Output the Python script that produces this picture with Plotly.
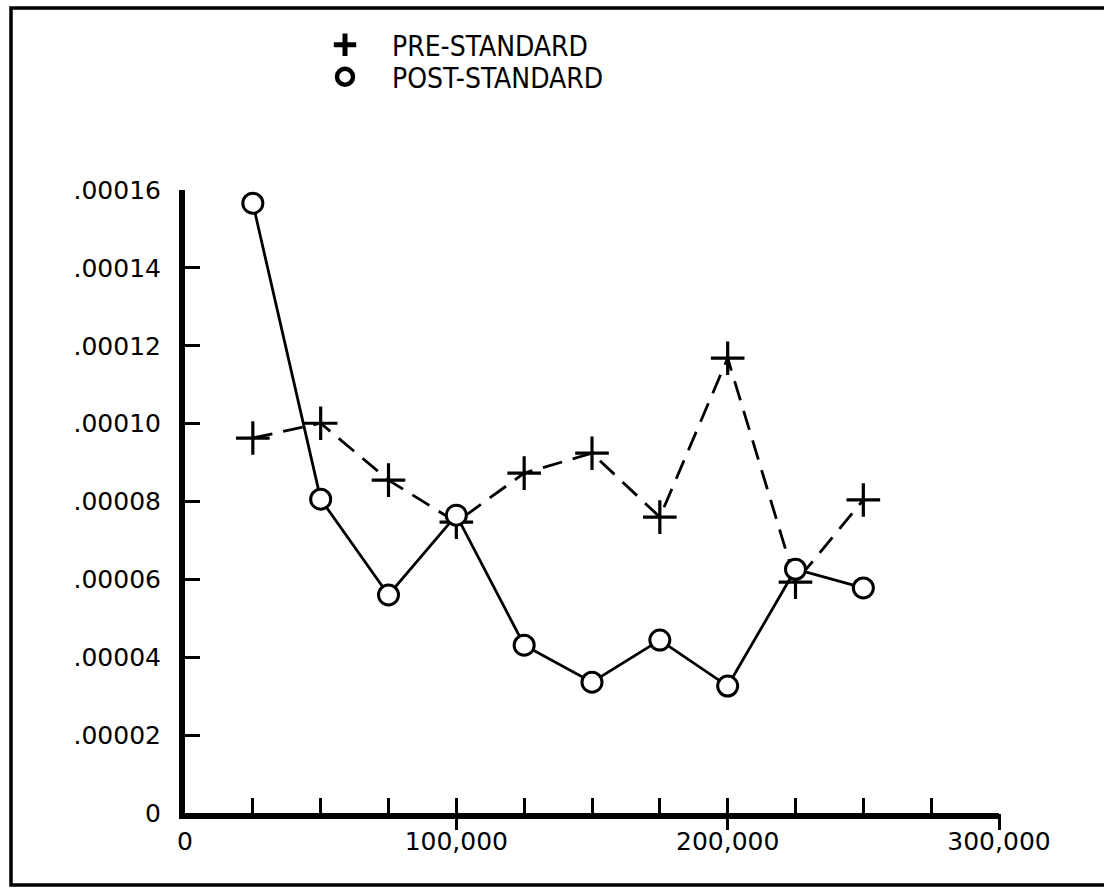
import plotly.graph_objects as go

# ---- data ----
mileage = [25000, 50000, 75000, 100000, 125000, 150000, 175000, 200000, 225000, 250000]
pre_standard = [0.0000963, 0.0001001, 0.0000855, 0.0000747, 0.0000873, 0.0000924,
                0.0000760, 0.0001168, 0.0000593, 0.0000804]
post_standard = [0.0001566, 0.0000806, 0.0000560, 0.0000765, 0.0000431, 0.0000336,
                 0.0000444, 0.0000326, 0.0000626, 0.0000578]
x_tick_vals = [25000 * i for i in range(0, 13)]
x_tick_text = ["0", "", "", "", "100,000", "", "", "", "200,000", "", "", "", "300,000"]
x_major_vals = [100000, 200000, 300000]
y_tick_vals = [0, 0.00002, 0.00004, 0.00006, 0.00008, 0.00010, 0.00012, 0.00014, 0.00016]
y_tick_text = ["0", ".00002", ".00004", ".00006", ".00008", ".00010", ".00012", ".00014", ".00016"]
legend_names = ["PRE-STANDARD", "POST-STANDARD"]

TICKFONT = "DejaVu Sans, sans-serif"
LEGFONT = "DejaVu Sans Condensed, DejaVu Sans, sans-serif"
W, H = 1104, 888
L, R, T, B = 185, 105, 190, 75
PW, PH = W - L - R, H - T - B


def px_x(p):
    return (p - L) / PW


def px_y(p):
    return (H - B - p) / PH


fig = go.Figure()

fig.add_trace(go.Scatter(
    x=mileage, y=pre_standard, mode="lines+markers", showlegend=False,
    line=dict(color="black", width=2.8, dash="20px,11px"),
    marker=dict(symbol="cross-thin", size=24, color="black",
                line=dict(color="black", width=3.2)),
))
fig.add_trace(go.Scatter(
    x=mileage, y=post_standard, mode="lines+markers", showlegend=False,
    line=dict(color="black", width=2.8),
    marker=dict(symbol="circle", size=20, color="white",
                line=dict(color="black", width=3)),
))

# legend-only entries (two separately placed legends)
fig.add_trace(go.Scatter(
    x=[None], y=[None], mode="markers", name=legend_names[0], legend="legend",
    marker=dict(symbol="cross-thin", size=16, color="black",
                line=dict(color="black", width=5)),
))
fig.add_trace(go.Scatter(
    x=[None], y=[None], mode="markers", name=legend_names[1], legend="legend2",
    marker=dict(symbol="circle-open", size=16, color="black",
                line=dict(color="black", width=4.5)),
))

# secondary x axis for the long crossing ticks at 100,000s
fig.add_trace(go.Scatter(x=[None], y=[None], xaxis="x2", showlegend=False))

leg_common = dict(
    xanchor="left", yanchor="middle", font=dict(size=28, family=LEGFONT, color="black"),
    bgcolor="rgba(0,0,0,0)", itemwidth=84,
)

fig.update_layout(
    width=W, height=H,
    margin=dict(l=L, r=R, t=T, b=B),
    paper_bgcolor="white", plot_bgcolor="white",
    font=dict(family=TICKFONT, color="black", size=25),
    xaxis=dict(
        range=[0, 300000], showgrid=False, zeroline=False,
        showline=True, linecolor="black", linewidth=6,
        tickmode="array", tickvals=x_tick_vals, ticktext=x_tick_text,
        ticks="inside", ticklen=15, tickwidth=3, tickcolor="black",
        tickfont=dict(size=25, family=TICKFONT), ticklabelstandoff=1,
    ),
    xaxis2=dict(
        range=[0, 300000], overlaying="x", side="bottom", matches="x",
        showgrid=False, zeroline=False, showline=False,
        tickmode="array", tickvals=x_major_vals, showticklabels=False,
        ticks="outside", ticklen=16, tickwidth=3, tickcolor="black",
    ),
    yaxis=dict(
        range=[0, 0.00016], showgrid=False, zeroline=False,
        showline=True, linecolor="black", linewidth=6,
        tickmode="array", tickvals=y_tick_vals, ticktext=y_tick_text,
        ticks="inside", ticklen=15, tickwidth=3, tickcolor="black",
        tickfont=dict(size=25, family=TICKFONT), ticklabelstandoff=13,
    ),
    legend=dict(x=px_x(298), y=px_y(45), **leg_common),
    legend2=dict(x=px_x(298), y=px_y(77), **leg_common),
    shapes=[
        dict(type="rect", xref="paper", yref="paper",
             x0=px_x(11), x1=px_x(1112), y0=px_y(885), y1=px_y(8),
             line=dict(color="black", width=3.5), fillcolor="rgba(0,0,0,0)",
             layer="below"),
    ],
)

fig.write_html("out.html", config={"displayModeBar": False},
               post_script="document.body.style.margin='0px';")
